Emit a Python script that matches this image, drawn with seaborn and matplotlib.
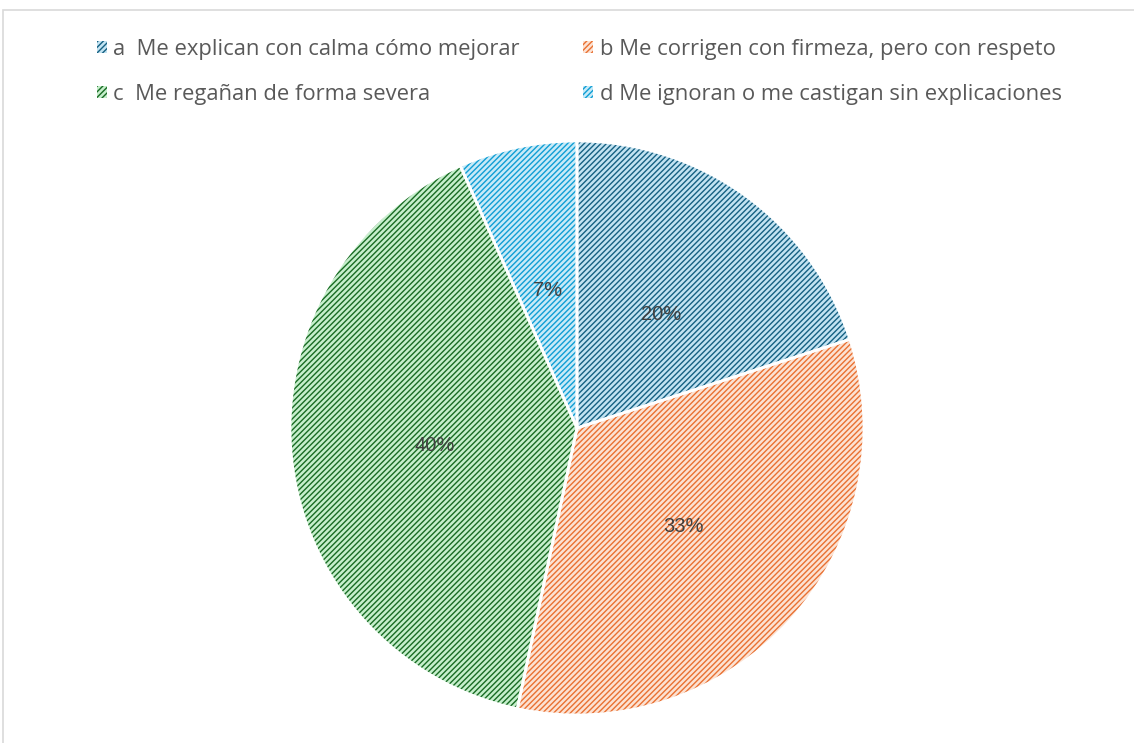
import numpy as np
import seaborn as sns
import matplotlib.pyplot as plt
from matplotlib.patches import Rectangle

labels = ["a  Me explican con calma cómo mejorar",
          "b Me corrigen con firmeza, pero con respeto",
          "c  Me regañan de forma severa",
          "d Me ignoran o me castigan sin explicaciones"]
counts = [6, 10, 12, 2]
pct_text = ["20%", "33%", "40%", "7%"]
hatch_cols = ["#156082", "#E97132", "#196B24", "#0F9ED5"]
fill_cols = ["#C2E3F2", "#FCE2D3", "#C6EFCC", "#C8EAF7"]

sns.set_theme(style="white")
plt.rcParams['font.family'] = ['Open Sans', 'DejaVu Sans']
plt.rcParams['hatch.linewidth'] = 1.0

fig = plt.figure(figsize=(11.34, 7.43), dpi=100)
W, H = 1134, 743

# chart border (only top/left visible)
fig.patches.append(Rectangle((3 / W, -0.1), 1.2, (H - 10) / H + 0.1, transform=fig.transFigure,
                             fill=False, edgecolor="#D9D9D9", linewidth=1.2))

cx, cy, r = 577, 428, 287
ax = fig.add_axes([(cx - r) / W, (H - cy - r) / H, 2 * r / W, 2 * r / H])

wedges, _ = ax.pie(counts, startangle=90, counterclock=False, colors=fill_cols,
                   wedgeprops=dict(linewidth=0))
for w, hc in zip(wedges, hatch_cols):
    w.set_edgecolor(hc)
    w.set_hatch("//////")
    w.set_linewidth(0)
# white separators
ax.pie(counts, startangle=90, counterclock=False,
       wedgeprops=dict(fill=False, edgecolor="white", linewidth=2))

# percentage labels
ang0 = 90
total = sum(counts)
for c, t in zip(counts, pct_text):
    mid = ang0 - 360 * c / total / 2
    ang0 -= 360 * c / total
    rr = 0.5
    ax.text(rr * np.cos(np.radians(mid)), rr * np.sin(np.radians(mid)) - 0.01, t,
            ha="center", va="center", fontsize=14.5, color="#404040",
            family=["Liberation Sans", "DejaVu Sans"])

ax.set_xlim(-1, 1)
ax.set_ylim(-1, 1)
ax.set_aspect("equal")
ax.axis("off")

# legend filled row by row: a, b / c, d
order = [0, 2, 1, 3]
leg = fig.legend([wedges[i] for i in order], [labels[i] for i in order], ncol=2,
                 loc="upper left", bbox_to_anchor=(77 / W, 1 - 19 / H),
                 frameon=False, fontsize=15.8, labelcolor="#595959", handlelength=0.45,
                 handleheight=0.45, handletextpad=0.3, columnspacing=2.9, labelspacing=1.1)

plt.savefig("out.png", dpi=100)
